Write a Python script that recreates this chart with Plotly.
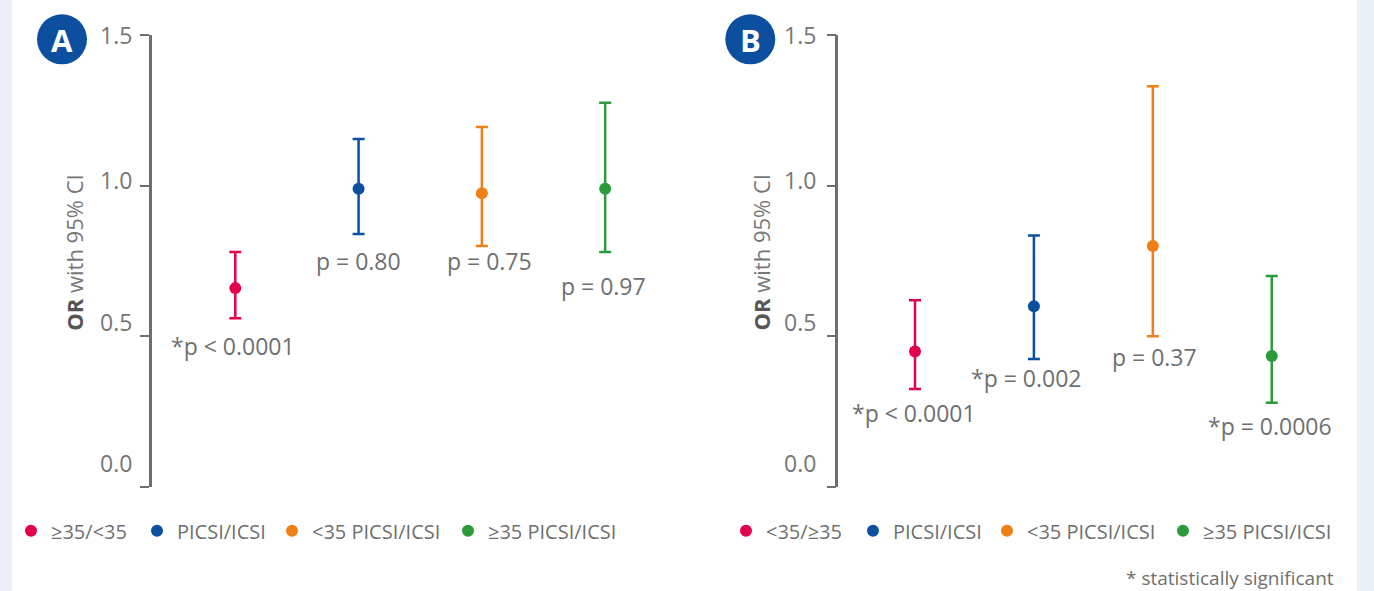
import plotly.graph_objects as go

# ---------------- data ----------------
groups_A = ["≥35/<35", "PICSI/ICSI", "<35 PICSI/ICSI", "≥35 PICSI/ICSI"]
groups_B = ["<35/≥35", "PICSI/ICSI", "<35 PICSI/ICSI", "≥35 PICSI/ICSI"]

or_A = [0.66, 0.99, 0.975, 0.99]
lo_A = [0.56, 0.84, 0.80, 0.78]
hi_A = [0.78, 1.155, 1.195, 1.275]
p_A = ["*p < 0.0001", "p = 0.80", "p = 0.75", "p = 0.97"]

or_B = [0.45, 0.60, 0.80, 0.435]
lo_B = [0.325, 0.425, 0.50, 0.28]
hi_B = [0.62, 0.835, 1.33, 0.70]
p_B = ["*p < 0.0001", "*p = 0.002", "p = 0.37", "*p = 0.0006"]

y_ticks = [0.0, 0.5, 1.0, 1.5]
y_tick_text = ["0.0", "0.5", "1.0", "1.5"]

# layout helpers: where p-value labels sit (data units) and small nudges (px)
plabel_y_A = [0.469, 0.751, 0.751, 0.667]
plabel_y_B = [0.245, 0.361, 0.432, 0.202]
plabel_dx_A = [-2, 0, 8, -2]
plabel_dx_B = [-1, -7, 2, -2]
# legend entry start positions (px)
legend_x_A = [11, 137, 272, 448]
legend_x_B = [726, 853, 987, 1163]

colors = ["#e2004f", "#0d4f9f", "#f07f16", "#2b9a3b"]

W, H = 1374, 591
FONT = "Open Sans"
GRAY = "#6f6f6f"
AXIS = "#6e6e6e"

fig = go.Figure()
legend_layouts = {}
leg_counter = [0]


def add_panel(groups, ors, los, his, xa, ya, lx):
    for i, (g, v, lo, hi) in enumerate(zip(groups, ors, los, his)):
        leg_counter[0] += 1
        lname = "legend" if leg_counter[0] == 1 else "legend%d" % leg_counter[0]
        legend_layouts[lname] = dict(
            orientation="h", x=lx[i] / W, y=1 - 530.7 / H,
            xanchor="left", yanchor="middle",
            font=dict(size=20, color=GRAY, family=FONT), bgcolor="rgba(0,0,0,0)",
            itemclick=False, itemdoubleclick=False)
        fig.add_trace(go.Scatter(
            x=[i], y=[v], mode="markers", name=g,
            marker=dict(color=colors[i], size=12),
            error_y=dict(type="data", symmetric=False,
                         array=[hi - v], arrayminus=[v - lo],
                         color=colors[i], thickness=2.5, width=6),
            xaxis=xa, yaxis=ya, legend=lname, showlegend=True,
            hoverinfo="skip", cliponaxis=False,
        ))


add_panel(groups_A, or_A, lo_A, hi_A, "x", "y", legend_x_A)
add_panel(groups_B, or_B, lo_B, hi_B, "x2", "y2", legend_x_B)

ydom = [1 - 487 / H, 1 - 35 / H]
yax = dict(range=[0, 1.5], domain=ydom, showgrid=False, zeroline=False,
           showline=True, linewidth=2.5, linecolor=AXIS,
           ticks="outside", ticklen=9, tickwidth=2.2, tickcolor=AXIS,
           tickvals=y_ticks, showticklabels=False, fixedrange=True)
xax = dict(showgrid=False, zeroline=False, showline=False, showticklabels=False,
           ticks="", fixedrange=True)

fig.update_layout(
    width=W, height=H,
    margin=dict(l=0, r=0, t=0, b=0),
    paper_bgcolor="white", plot_bgcolor="rgba(0,0,0,0)",
    hovermode=False, showlegend=True,
    font=dict(family=FONT, color=GRAY),
    xaxis=dict(xax, domain=[151.7 / W, 680 / W], range=[-0.678, 3.607]),
    yaxis=dict(yax, anchor="x"),
    xaxis2=dict(xax, domain=[838.3 / W, 1357 / W], range=[-0.645, 3.717]),
    yaxis2=dict(yax, anchor="x2"),
    **legend_layouts,
)

shapes = []
annotations = []

# side strips
shapes.append(dict(type="rect", xref="paper", yref="paper", x0=0, x1=12 / W, y0=0, y1=1,
                   fillcolor="#eaf0f6", line=dict(width=0), layer="below"))
shapes.append(dict(type="rect", xref="paper", yref="paper", x0=1357 / W, x1=1, y0=0, y1=1,
                   fillcolor="#eaf0f6", line=dict(width=0), layer="below"))

# panel badges
for letter, cx in (("A", 62), ("B", 750.3)):
    shapes.append(dict(type="circle", xref="paper", yref="paper",
                       xsizemode="pixel", ysizemode="pixel",
                       xanchor=cx / W, yanchor=1 - 39.3 / H,
                       x0=-25, x1=25, y0=-25, y1=25,
                       fillcolor="#0d4f9f", line=dict(width=0)))
    annotations.append(dict(text="<b>%s</b>" % letter, xref="paper", yref="paper",
                            x=cx / W, y=1 - 40 / H, xanchor="center", yanchor="middle",
                            showarrow=False, font=dict(size=31, color="white", family=FONT)))

# tick labels (slightly lifted, as in the original)
tick_lift = [24, 14, 6, 0]
for xa, ya, dx in (("x", "y", -18), ("x2", "y2", -20)):
    for v, t, lift in zip(y_ticks, y_tick_text, tick_lift):
        annotations.append(dict(text=t, xref=xa + " domain", yref=ya, x=0, y=v,
                                xanchor="right", yanchor="middle", xshift=dx, yshift=lift,
                                showarrow=False, font=dict(size=23, color="#767676", family=FONT)))

# y titles
for cx in (73.3, 760):
    annotations.append(dict(text="<span style='color:#555555'><b>OR</b></span> with 95% CI",
                            xref="paper", yref="paper", x=cx / W, y=1 - 252.5 / H,
                            xanchor="center", yanchor="middle", textangle=-90,
                            showarrow=False, font=dict(size=22, color="#777777", family=FONT)))

# p-value labels
for xa, ya, labels, ys, dxs in (("x", "y", p_A, plabel_y_A, plabel_dx_A),
                                ("x2", "y2", p_B, plabel_y_B, plabel_dx_B)):
    for i, (t, yv, dx) in enumerate(zip(labels, ys, dxs)):
        annotations.append(dict(text=t, xref=xa, yref=ya, x=i, y=yv, xshift=dx,
                                xanchor="center", yanchor="middle", showarrow=False,
                                font=dict(size=23, color="#6f6f6f", family=FONT)))

annotations.append(dict(text="* statistically significant", xref="paper", yref="paper",
                        x=1336 / W, y=1 - 578 / H, xanchor="right", yanchor="middle",
                        showarrow=False, font=dict(size=19, color="#6f6f6f", family=FONT)))

fig.update_layout(shapes=shapes, annotations=annotations)

fig.write_html("out.html", config={"displayModeBar": False},
               post_script="document.body.style.margin='0';document.body.style.overflow='hidden';")
